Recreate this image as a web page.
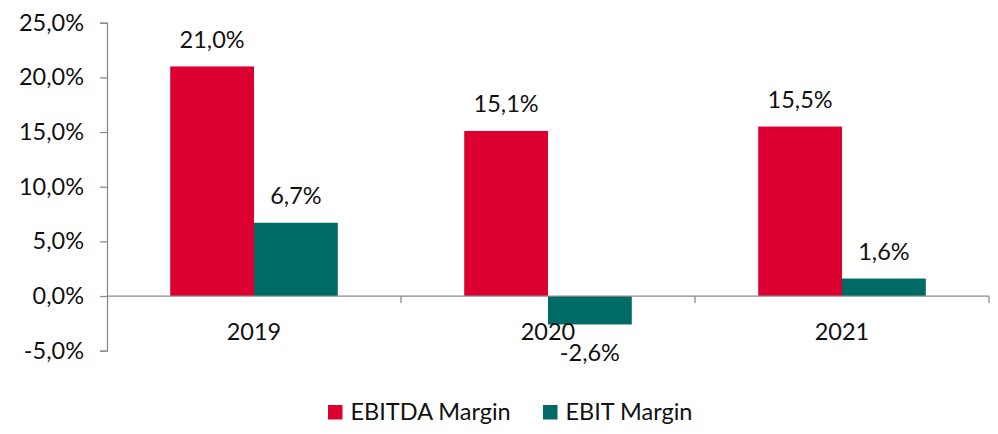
<!DOCTYPE html>
<html>
<head>
<meta charset="utf-8">
<script src="https://cdn.jsdelivr.net/npm/d3@7"></script>
<style>
  body { margin: 0; background: #fff; }
  svg text { font-family: Lato, "Open Sans", sans-serif; fill: #111; }
</style>
</head>
<body>
<div id="svg-container"></div>
<script>
// data
const years = ["2019", "2020", "2021"];
const seriesNames = ["EBITDA Margin", "EBIT Margin"];
const ebitda = [21.0, 15.1, 15.5];
const ebit = [6.7, -2.6, 1.6];
const yTicks = [-5, 0, 5, 10, 15, 20, 25];
const colors = ["#dc0031", "#006a66"];

const width = 998;
const height = 434;
const margin = { top: 22.7, right: 9, bottom: 83.3, left: 107 };
const fontSize = 23.5;

const fmt = (v) => v.toFixed(1).replace(".", ",") + "%";

const svg = d3
  .select("#svg-container")
  .append("svg")
  .attr("width", width)
  .attr("height", height);

// scales
const x0 = d3
  .scaleBand()
  .domain(years)
  .range([margin.left, width - margin.right]);

const x1 = d3
  .scaleBand()
  .domain(seriesNames)
  .range([x0.bandwidth() * 0.215, x0.bandwidth() * 0.785]);

const y = d3
  .scaleLinear()
  .domain([-5, 25])
  .range([height - margin.bottom, margin.top]);

const rows = years.map((yr, i) => ({
  year: yr,
  values: [ebitda[i], ebit[i]],
}));

// y axis
const yAxis = d3
  .axisLeft(y)
  .tickValues(yTicks)
  .tickFormat(fmt)
  .tickSize(7)
  .tickPadding(16);

svg
  .append("g")
  .attr("class", "y-axis")
  .attr("transform", `translate(${margin.left},0)`)
  .call(yAxis)
  .call((g) => g.selectAll("path, line").attr("stroke", "#8c8c8c").attr("stroke-width", 1.3))
  .call((g) =>
    g.selectAll("text").attr("font-size", fontSize).style("font-family", "Lato, sans-serif")
  );

// bars
const groups = svg
  .selectAll(".group")
  .data(rows)
  .join("g")
  .attr("class", "group")
  .attr("transform", (d) => `translate(${x0(d.year)},0)`);

groups
  .selectAll("rect")
  .data((d) => d.values.map((v, i) => ({ key: seriesNames[i], v, i })))
  .join("rect")
  .attr("x", (d) => x1(d.key))
  .attr("width", x1.bandwidth())
  .attr("y", (d) => y(Math.max(0, d.v)))
  .attr("height", (d) => Math.abs(y(d.v) - y(0)))
  .attr("fill", (d) => colors[d.i]);

// value labels
groups
  .selectAll(".val")
  .data((d) => d.values.map((v, i) => ({ key: seriesNames[i], v, i })))
  .join("text")
  .attr("class", "val")
  .attr("x", (d) => x1(d.key) + x1.bandwidth() / 2)
  .attr("y", (d) => (d.v >= 0 ? y(d.v) - 18.5 : y(d.v) + 37))
  .attr("text-anchor", "middle")
  .attr("font-size", fontSize)
  .text((d) => fmt(d.v));

// x axis at zero
const xg = svg
  .append("g")
  .attr("class", "x-axis")
  .attr("transform", `translate(0,${y(0)})`);

xg.append("line")
  .attr("x1", margin.left)
  .attr("x2", width - margin.right)
  .attr("stroke", "#8c8c8c")
  .attr("stroke-width", 1.3);

xg.selectAll(".sep")
  .data(years)
  .join("line")
  .attr("class", "sep")
  .attr("x1", (d) => x0(d) + x0.bandwidth())
  .attr("x2", (d) => x0(d) + x0.bandwidth())
  .attr("y1", 0)
  .attr("y2", 7)
  .attr("stroke", "#8c8c8c")
  .attr("stroke-width", 1.3);

xg.selectAll(".yr")
  .data(years)
  .join("text")
  .attr("class", "yr")
  .attr("x", (d) => x0(d) + x0.bandwidth() / 2)
  .attr("y", 44)
  .attr("text-anchor", "middle")
  .attr("font-size", fontSize)
  .text((d) => d);

// legend
const legend = svg.append("g").attr("class", "legend");
const legendX = [328, 543];
seriesNames.forEach((name, i) => {
  legend
    .append("rect")
    .attr("x", legendX[i])
    .attr("y", 405)
    .attr("width", 14.5)
    .attr("height", 14.5)
    .attr("fill", colors[i]);
  legend
    .append("text")
    .attr("x", legendX[i] + 22.5)
    .attr("y", 420)
    .attr("font-size", fontSize)
    .text(name);
});
</script>
</body>
</html>
